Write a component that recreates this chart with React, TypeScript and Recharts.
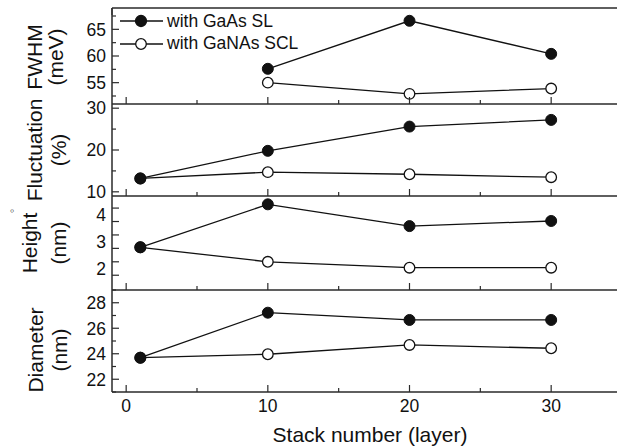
import React from "react";
import { LineChart, Line, XAxis, YAxis, Legend } from "recharts";

// stack number (layers)
const stacks = [1, 10, 20, 30];

const seriesNames = ["with GaAs SL", "with GaNAs SCL"];

// FWHM (meV) - no single-layer value
const fwhmGaAs = [null, 57.6, 66.6, 60.4];
const fwhmGaNAs = [null, 55.0, 52.9, 53.9];
// size fluctuation (%)
const flucGaAs = [13.2, 19.8, 25.6, 27.2];
const flucGaNAs = [13.2, 14.7, 14.2, 13.5];
// dot height (nm)
const heightGaAs = [2.79, 4.39, 3.58, 3.77];
const heightGaNAs = [2.79, 2.25, 2.03, 2.03];
// dot diameter (nm)
const diamGaAs = [23.69, 27.22, 26.65, 26.65];
const diamGaNAs = [23.69, 23.96, 24.69, 24.43];

const xMajor = [0, 10, 20, 30];
const xMinor = [5, 15, 25];

const FONT = "'Liberation Sans', Arial, sans-serif";
const INK = "#111";
const AXIS = "#2a2a2a";

const rows = stacks.map((s, i) => ({
  stack: s,
  fwhmA: fwhmGaAs[i],
  fwhmB: fwhmGaNAs[i],
  flucA: flucGaAs[i],
  flucB: flucGaNAs[i],
  heightA: heightGaAs[i],
  heightB: heightGaNAs[i],
  diamA: diamGaAs[i],
  diamB: diamGaNAs[i],
}));

const panels = [
  {
    key: "fwhm",
    title: ["FWHM", "(meV)"],
    domain: [51, 69],
    labels: [55, 60, 65],
    majors: [55, 60, 65],
    minors: [52.5, 57.5, 62.5, 67.5],
    top: 0,
    mTop: 7,
    plotH: 96,
    titleX: [42, 63],
    titleY: 57,
  },
  {
    key: "fluc",
    title: ["Fluctuation", "(%)"],
    domain: [9, 31],
    labels: [10, 20, 30],
    majors: [10, 20, 30],
    minors: [15, 25],
    top: 98,
    mTop: 6,
    plotH: 92,
    titleX: [42, 66],
    titleY: 150,
  },
  {
    key: "height",
    title: ["Height", "(nm)"],
    domain: [1.2, 4.7],
    labels: [2, 3, 4],
    majors: [1.75, 2.25, 2.75, 3.25, 3.75, 4.25],
    minors: [],
    top: 190,
    mTop: 6,
    plotH: 94,
    titleX: [37, 66],
    titleY: 243,
  },
  {
    key: "diam",
    title: ["Diameter", "(nm)"],
    domain: [21, 29],
    labels: [22, 24, 26, 28],
    majors: [22, 24, 26, 28],
    minors: [21, 23, 25, 27, 29],
    top: 284,
    mTop: 6,
    plotH: 102,
    titleX: [43, 67],
    titleY: 350,
  },
];

const filledDot = { r: 5.5, fill: INK, stroke: INK, strokeWidth: 1 };
const openDot = { r: 5.3, fill: "#fff", stroke: INK, strokeWidth: 1.3 };

function makeYTick(labels: number[], majors: number[], minors: number[]) {
  return (props: any) => {
    const { x, y, payload } = props;
    const v = payload.value;
    const len = majors.includes(v) ? 7 : minors.includes(v) ? 4 : 0;
    return (
      <g>
        {len > 0 && (
          <line x1={x} y1={y} x2={x + len} y2={y} stroke={AXIS} strokeWidth={1.2} />
        )}
        {labels.includes(v) && (
          <text
            x={x - 6}
            y={y}
            dy="0.36em"
            textAnchor="end"
            fontSize={17.5}
            fontFamily={FONT}
            fill={INK}
          >
            {v}
          </text>
        )}
      </g>
    );
  };
}

function makeXTick(dir: number, showLabels: boolean) {
  return (props: any) => {
    const { x, y, payload } = props;
    const v = payload.value;
    const major = xMajor.includes(v);
    return (
      <g>
        <line x1={x} y1={y} x2={x} y2={y + dir * (major ? 7 : 4)} stroke={AXIS} strokeWidth={1.2} />
        {showLabels && major && (
          <text
            x={x}
            y={y + 14}
            dy="0.36em"
            textAnchor="middle"
            fontSize={17.5}
            fontFamily={FONT}
            fill={INK}
          >
            {v}
          </text>
        )}
      </g>
    );
  };
}

function makeYTitle(lines: string[], xs: number[], cy: number, chartTop: number) {
  return () => (
    <g>
      {lines.map((t, i) => (
        <text
          key={t}
          x={xs[i]}
          y={cy - chartTop}
          transform={`rotate(-90 ${xs[i]} ${cy - chartTop})`}
          textAnchor="middle"
          fontSize={21}
          fontFamily={FONT}
          fill={INK}
        >
          {t}
        </text>
      ))}
    </g>
  );
}

const legendContent = () => (
  <div style={{ fontFamily: FONT, fontSize: 17.5, color: INK }}>
    {seriesNames.map((name, i) => (
      <div key={name} style={{ display: "flex", alignItems: "center", height: 22.6 }}>
        <svg width={43} height={14}>
          <line x1={0} y1={7} x2={43} y2={7} stroke={INK} strokeWidth={1.3} />
          <circle
            cx={21}
            cy={7}
            r={i === 0 ? 5.5 : 5.3}
            fill={i === 0 ? INK : "#fff"}
            stroke={INK}
            strokeWidth={1.3}
          />
        </svg>
        <span style={{ marginLeft: 4, whiteSpace: "nowrap" }}>{name}</span>
      </div>
    ))}
  </div>
);

export default function App() {
  return (
    <div
      style={{
        position: "absolute",
        left: 0,
        top: 0,
        width: 617,
        height: 448,
        overflow: "hidden",
        background: "#fff",
      }}
    >
      {panels.map((p, idx) => {
        const last = idx === panels.length - 1;
        // axes need at least 1px of height to be drawn
        const mBottom = last ? 0 : 5;
        const xH = last ? 60 : 1;
        const topH = idx === 0 ? 1 : 0;
        const h = p.mTop + topH + p.plotH + mBottom + xH;
        const yTicks = [...p.labels, ...p.majors, ...p.minors]
          .filter((v, i, a) => a.indexOf(v) === i)
          .sort((a, b) => a - b);
        return (
          <div key={p.key} style={{ position: "absolute", left: 0, top: p.top }}>
            <LineChart
              width={622}
              height={h}
              data={rows}
              margin={{ top: p.mTop, right: 0, bottom: mBottom, left: 0 }}
            >
              <XAxis
                dataKey="stack"
                type="number"
                domain={[-1, 35]}
                ticks={[...xMajor, ...xMinor].sort((a, b) => a - b)}
                interval={0}
                height={xH}
                tickSize={0}
                tickMargin={0}
                tickLine={false}
                tick={makeXTick(-1, last)}
                axisLine={{ stroke: AXIS, strokeWidth: 1.5 }}
                label={
                  last
                    ? (lp: any) => {
                        const vb = lp.viewBox;
                        return (
                          <text
                            x={vb.x + vb.width / 2 + 3}
                            y={vb.y + 50}
                            textAnchor="middle"
                            fontSize={21}
                            fontFamily={FONT}
                            fill={INK}
                          >
                            Stack number (layer)
                          </text>
                        );
                      }
                    : undefined
                }
              />
              {idx === 0 && (
                <XAxis
                  xAxisId="top"
                  orientation="top"
                  type="number"
                  domain={[-1, 35]}
                  ticks={[...xMajor, ...xMinor].sort((a, b) => a - b)}
                  interval={0}
                  height={topH}
                  tickSize={0}
                  tickMargin={0}
                  tickLine={false}
                  tick={makeXTick(1, false)}
                  axisLine={{ stroke: AXIS, strokeWidth: 1.5 }}
                />
              )}
              <YAxis
                type="number"
                domain={p.domain}
                ticks={yTicks}
                interval={0}
                width={112}
                tickSize={0}
                tickMargin={0}
                tickLine={false}
                tick={makeYTick(p.labels, p.majors, p.minors)}
                axisLine={{ stroke: AXIS, strokeWidth: 1.5 }}
                label={makeYTitle(p.title, p.titleX, p.titleY, p.top)}
              />
              {idx === 0 && (
                <Legend
                  content={legendContent}
                  layout="vertical"
                  align="center"
                  verticalAlign="middle"
                  wrapperStyle={{ left: 120, top: 10, width: "auto" }}
                />
              )}
              <Line
                dataKey={`${p.key}B`}
                name={seriesNames[1]}
                type="linear"
                stroke={INK}
                strokeWidth={1.3}
                dot={openDot}
                activeDot={false}
                isAnimationActive={false}
              />
              <Line
                dataKey={`${p.key}A`}
                name={seriesNames[0]}
                type="linear"
                stroke={INK}
                strokeWidth={1.3}
                dot={filledDot}
                activeDot={false}
                isAnimationActive={false}
              />
            </LineChart>
          </div>
        );
      })}
      <div
        style={{
          position: "absolute",
          left: 10,
          top: 203,
          fontSize: 13,
          fontFamily: FONT,
          color: "#444",
        }}
      >
        ◦
      </div>
    </div>
  );
}
